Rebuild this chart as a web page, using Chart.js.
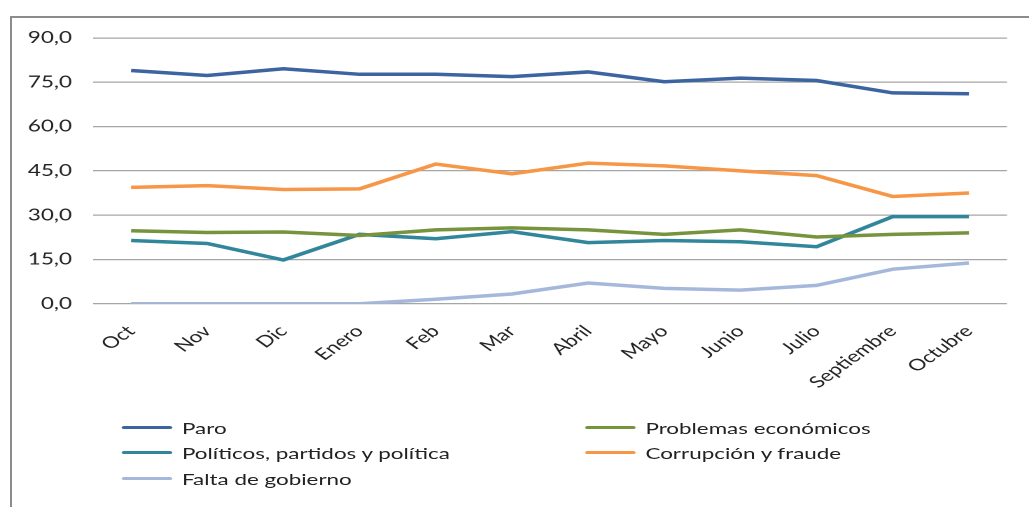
<!DOCTYPE html>
<html>
<head>
<meta charset="utf-8">
<script src="https://cdn.jsdelivr.net/npm/chart.js@4/dist/chart.umd.min.js"></script>
<style>
  html, body { margin: 0; padding: 0; background: #fff; overflow: hidden; }
  body { width: 1029px; height: 507px; position: relative; }
  #frame {
    position: absolute; left: 10px; top: 16px; width: 1040px; height: 520px;
    border-left: 2px solid #8c8c8c; border-top: 2px solid #8c8c8c;
  }
  /* the original picture is an Excel chart stretched sideways, so the whole drawing is scaled in x */
  #stretch {
    position: absolute; left: 0; top: 0; width: 735px; height: 507px;
    transform: scaleX(1.4); transform-origin: 0 0;
  }
  #wrap { position: absolute; left: 0; top: 0; width: 735px; height: 400px; }
  #legend { position: absolute; left: 0; top: 0; width: 735px; height: 507px;
    font-family: Lato, "Open Sans", sans-serif; font-size: 16px; color: #222; }
  .item { position: absolute; display: flex; align-items: center; height: 20px; white-space: nowrap; }
  .item span.sw { display: inline-block; width: 36px; height: 3px; border-radius: 2px; margin-right: 7px; }
</style>
</head>
<body>
<div id="frame"></div>
<div id="stretch">
  <div id="wrap"><canvas id="chart"></canvas></div>
  <div id="legend"></div>
</div>
<script>
const months = ['Oct', 'Nov', 'Dic', 'Enero', 'Feb', 'Mar', 'Abril', 'Mayo', 'Junio', 'Julio', 'Septiembre', 'Octubre'];
const paro = [79.0, 77.3, 79.6, 77.7, 77.7, 76.9, 78.5, 75.2, 76.4, 75.6, 71.4, 71.1];
const problemas = [24.7, 24.1, 24.3, 23.1, 25.0, 25.7, 25.0, 23.5, 25.0, 22.6, 23.5, 24.0];
const politicos = [21.4, 20.4, 14.8, 23.5, 22.0, 24.4, 20.7, 21.4, 21.0, 19.3, 29.5, 29.5];
const corrupcion = [39.4, 40.0, 38.7, 38.9, 47.3, 44.0, 47.6, 46.7, 45.0, 43.4, 36.3, 37.5];
const falta = [0, 0, 0, 0, 1.5, 3.3, 7.0, 5.2, 4.6, 6.2, 11.7, 13.8];
const yTicks = [0, 15, 30, 45, 60, 75, 90];

const seriesNames = ['Paro', 'Problemas económicos', 'Políticos, partidos y política', 'Corrupción y fraude', 'Falta de gobierno'];
const seriesData = [paro, problemas, politicos, corrupcion, falta];
const seriesColors = ['#3b64a0', '#77933c', '#31869b', '#f79646', '#a5b8dc'];

function makeDataset(i) {
    return {
        label: seriesNames[i],
        data: seriesData[i],
        borderColor: seriesColors[i],
        backgroundColor: seriesColors[i],
        borderWidth: 3.5,
        pointRadius: 0,
        tension: 0,
        fill: false
    };
}

const tickFont = { family: 'Lato, "Open Sans", sans-serif', size: 16 };

const chart = new Chart(document.getElementById('chart').getContext('2d'), {
    type: 'line',
    data: {
        labels: months,
        datasets: seriesData.map((d, i) => makeDataset(i))
    },
    options: {
        responsive: true,
        maintainAspectRatio: false,
        animation: false,
        devicePixelRatio: 2,
        layout: { padding: { top: 38, left: 0, right: 15.7, bottom: 0 } },
        plugins: {
            legend: { display: false },
            tooltip: { enabled: false }
        },
        scales: {
            x: {
                offset: true,
                grid: { display: false, drawTicks: false },
                border: { display: false },
                ticks: {
                    color: '#222',
                    font: tickFont,
                    minRotation: 45,
                    maxRotation: 45,
                    autoSkip: false,
                    padding: 18
                },
                afterFit: function(scale) { scale.height = 96.3; }
            },
            y: {
                min: 0,
                max: 90,
                afterBuildTicks: function(scale) { scale.ticks = yTicks.map(v => ({ value: v })); },
                grid: { color: '#a6a6a6', lineWidth: 1.3, drawTicks: false },
                border: { display: false },
                ticks: {
                    color: '#222',
                    font: tickFont,
                    padding: 15,
                    callback: v => v.toFixed(1).replace('.', ',')
                },
                afterFit: function(scale) { scale.width = 66.4; }
            }
        }
    }
});

// legend in two columns, like the original
const legendPos = [
    { x: 87, y: 427 }, { x: 418, y: 427 },
    { x: 87, y: 452 }, { x: 418, y: 452 },
    { x: 87, y: 478 }
];
const legendEl = document.getElementById('legend');
chart.data.datasets.forEach((ds, i) => {
    const item = document.createElement('div');
    item.className = 'item';
    item.style.left = legendPos[i].x + 'px';
    item.style.top = (legendPos[i].y - 10) + 'px';
    const sw = document.createElement('span');
    sw.className = 'sw';
    sw.style.background = ds.borderColor;
    item.appendChild(sw);
    item.appendChild(document.createTextNode(ds.label));
    legendEl.appendChild(item);
});
</script>
</body>
</html>
